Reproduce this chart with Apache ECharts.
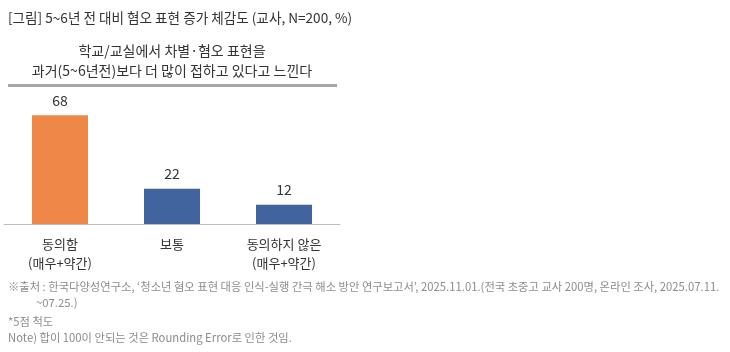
<!DOCTYPE html>
<html><head><meta charset="utf-8">
<script src="https://cdn.jsdelivr.net/npm/echarts@6/dist/echarts.min.js"></script>
<style>html,body{margin:0;padding:0;background:#fff}#c{width:730px;height:352px}</style>
</head><body><div id="c"></div>
<script>
const categories = ['동의함\n(매우+약간)', '보통', '동의하지 않은\n(매우+약간)'];
const values = [68, 22, 12];
const barColors = ['#EF8748', '#41649E', '#41649E'];
const chartTitle = '[그림] 5~6년 전 대비 혐오 표현 증가 체감도 (교사, N=200, %)';
const subTitle = '학교/교실에서 차별·혐오 표현을\n과거(5~6년전)보다 더 많이 접하고 있다고 느낀다';
const notes = [
  "※출처 : 한국다양성연구소, ‘청소년 혐오 표현 대응 인식-실행 간극 해소 방안 연구보고서’, 2025.11.01.(전국 초중고 교사 200명, 온라인 조사, 2025.07.11.",
  "~07.25.)",
  "*5점 척도",
  "Note) 합이 100이 안되는 것은 Rounding Error로 인한 것임."
];
const font = '"Noto Sans CJK KR", "Noto Sans", sans-serif';
const chart = echarts.init(document.getElementById('c'));
chart.setOption({
  animation: false,
  textStyle: { fontFamily: font },
  grid: { left: 4, width: 336, top: 64, height: 160 },
  xAxis: {
    type: 'category', data: categories,
    axisLine: { lineStyle: { color: '#bdbdbd', width: 1 } },
    axisTick: { show: false },
    axisLabel: { color: '#333', fontSize: 13, lineHeight: 19, margin: 11, fontFamily: font }
  },
  yAxis: { type: 'value', min: 0, max: 100, show: false, splitLine: { show: false } },
  series: [{
    type: 'bar', barWidth: 56,
    data: values.map((v, i) => ({ value: v, itemStyle: { color: barColors[i] } })),
    label: { show: true, position: 'top', distance: 8, color: '#333', fontSize: 14, fontFamily: font }
  }],
  graphic: [
    { type: 'text', left: 8, top: 11, style: { text: chartTitle, font: '13.6px ' + font, fill: '#333' } },
    { type: 'text', x: 172, y: 41, style: { text: subTitle, font: '14px ' + font, fill: '#333', align: 'center', lineHeight: 20 } },
    { type: 'rect', shape: { x: 8, y: 84, width: 329, height: 3 }, style: { fill: '#a6a6a6' } },
    { type: 'text', left: 8, top: 281, style: { text: notes[0], font: '11.3px ' + font, fill: '#8c8c8c' } },
    { type: 'text', left: 36, top: 297, style: { text: notes[1], font: '11.3px ' + font, fill: '#8c8c8c' } },
    { type: 'text', left: 8, top: 316, style: { text: notes[2], font: '11.3px ' + font, fill: '#8c8c8c' } },
    { type: 'text', left: 8, top: 332, style: { text: notes[3], font: '11.3px ' + font, fill: '#8c8c8c' } }
  ]
});
</script></body></html>
